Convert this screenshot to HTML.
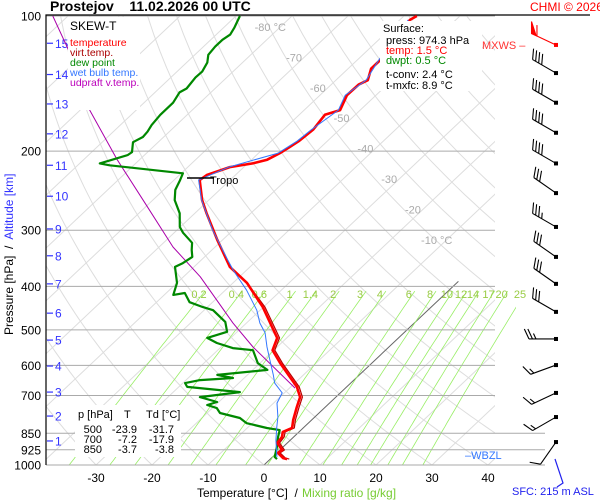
<!DOCTYPE html>
<html><head><meta charset="utf-8"><style>
html,body{margin:0;padding:0;background:#fff;}
svg{display:block;font-family:"Liberation Sans",sans-serif;}
</style></head><body>
<svg id="chart" width="600" height="500" viewBox="0 0 600 500" xmlns="http://www.w3.org/2000/svg">
<defs><clipPath id="plotClip"><rect x="46" y="16" width="449" height="449"/></clipPath>
<clipPath id="mixClip"><rect x="46" y="16" width="470" height="449"/></clipPath></defs>
<g id="grid"></g>
<g id="series"></g>
<g id="barbs"></g>
<g id="labels">
<text x="50" y="11" font-size="14" font-weight="bold" xml:space="preserve">Prostejov    11.02.2026 00 UTC</text>
<text x="530" y="11" font-size="12" fill="#f00">CHMI © 2026</text>
<rect x="68" y="17" width="72" height="93" fill="#fff"/>
<text x="70" y="30" font-size="12">SKEW-T</text>
<text x="70" y="46" font-size="10.5" fill="#f00">temperature</text>
<text x="70" y="56" font-size="10.5" fill="#a00">virt.temp.</text>
<text x="70" y="66" font-size="10.5" fill="#080">dew point</text>
<text x="70" y="76" font-size="10.5" fill="#37f">wet bulb temp.</text>
<text x="70" y="86" font-size="10.5" fill="#b0b">udpraft v.temp.</text>
<rect x="380" y="21" width="102" height="70" fill="#fff"/>
<text x="383" y="32" font-size="11">Surface:</text>
<text x="386" y="44" font-size="11">press: 974.3 hPa</text>
<text x="386" y="54" font-size="11" fill="#f00">temp: 1.5 °C</text>
<text x="386" y="64" font-size="11" fill="#080">dwpt: 0.5 °C</text>
<text x="386" y="78" font-size="11">t-conv: 2.4 °C</text>
<text x="386" y="89" font-size="11">t-mxfc: 8.9 °C</text>
<rect x="75" y="405" width="106" height="52" fill="#fff"/>
<g font-size="11">
<text x="78" y="418">p [hPa]</text><text x="124" y="418">T</text><text x="146" y="418">Td [°C]</text></g>
<g font-size="11" text-anchor="end">
<text x="102" y="433">500</text><text x="137" y="433">-23.9</text><text x="174" y="433">-31.7</text>
<text x="102" y="443">700</text><text x="137" y="443">-7.2</text><text x="174" y="443">-17.9</text>
<text x="102" y="453">850</text><text x="137" y="453">-3.7</text><text x="174" y="453">-3.8</text>
</g>
<text x="197" y="497" font-size="12" xml:space="preserve">Temperature [°C]  /</text>
<text x="302" y="497" font-size="12" fill="#7c3">Mixing ratio [g/kg]</text>
<text transform="translate(13,335) rotate(-90)" font-size="12" xml:space="preserve">Pressure [hPa]  /  <tspan fill="#33f">Altitude [km]</tspan></text>
<text x="482" y="49" font-size="11" fill="#f33">MXWS –</text>
<text x="465" y="459" font-size="11" fill="#37f">–WBZL</text>
<text x="512" y="495" font-size="11" fill="#22e">SFC: 215 m ASL</text>
<polyline points="555,459 563,483 557,487" fill="none" stroke="#22e" stroke-width="1.2"/>
<text x="210" y="184" font-size="11">Tropo</text>
</g>
</svg>
<script>
const pTemp=[970,965,940,926,893,866,844,827,794,743,706,670,637,593,555,521,500,445,393,362,332,315,275,257,232,226,217,213,209,202,196,190,179,166,162,150,142,139,131,125,115,102,100];
const tTemp=[3.0,2.1,0.2,0.4,-1.8,-2.1,-2.9,-2.0,-3.3,-5.1,-6.4,-8.9,-12.0,-16.4,-20.2,-21.7,-23.9,-30.1,-37.5,-43.6,-48.2,-51.0,-57.9,-61.2,-65.4,-65.1,-62.5,-59.1,-57.2,-56.2,-55.6,-55.1,-54.7,-55.4,-53.6,-55.2,-55.1,-54.3,-55.9,-55.9,-56.8,-58.2,-57.7];
const pDew=[970,960,912,866,836,827,807,786,766,747,735,724,706,688,670,657,647,640,630,614,593,555,549,535,521,505,480,452,445,434,414,418,393,362,355,344,332,320,304,295,275,257,244,232,224,215,213,204,201,191,186,181,175,166,156,148,145,137,133,127,122,117,113,110,106,100];
const tDew=[1.2,0.4,-1.1,-2.8,-3.8,-6.5,-11.0,-13.2,-17.7,-19.2,-21.5,-20.3,-24.3,-18.1,-28.5,-29.6,-27.5,-22.0,-25.4,-17.4,-20.4,-23.7,-27.7,-31.5,-34.2,-31.8,-34.0,-38.4,-40.8,-44.1,-46.7,-48.4,-50.0,-53.4,-52.7,-52.2,-53.6,-54.9,-58.4,-60.1,-62.7,-66.1,-67.9,-68.9,-69.7,-84.3,-86.4,-83.0,-82.8,-84.5,-83.7,-83.9,-84.4,-84.8,-84.8,-85.6,-85.1,-85.6,-85.5,-86.3,-87.6,-87.9,-87.9,-87.5,-88.1,-89.3];
const pWet=[960,880,823,782,728,691,657,630,584,546,508,483,452,408,368,350,300,257,232,217,202,190,179,162,150,139,125,115,102];
const tWet=[0.8,-2.6,-4.9,-6.6,-9.4,-10.4,-13.6,-15.4,-18.8,-21.8,-24.8,-27.6,-30.6,-36.2,-42.4,-45.2,-53.6,-61.3,-65.6,-62.7,-56.5,-55.4,-55.0,-53.9,-55.5,-54.6,-56.2,-57.1,-58.5];
const pUp=[674,546,483,381,327,266,209,162,121,100];
const tUp=[-9.0,-24.3,-32.4,-47.0,-57.5,-69.7,-84.0,-98.3,-112.6,-122.7];
const pBarb=[116,134,156,182,213,248,295,344,395,456,524,599,691,782,889];
const dirBarb=[295,300,300,300,300,305,300,305,305,300,270,250,245,240,215];
const spdBarb=[60,40,40,40,40,30,35,30,30,30,25,15,15,15,10];
const pLevels=[100,200,300,400,500,600,700,850,925,1000];
const tTicks=[-30,-20,-10,0,10,20,30,40];
const kmTicks=[1,2,3,4,5,6,7,8,9,10,11,12,13,14,15];
const kmPress=[884,778,688,602,527,459,395,342,298,252,215,183,157,135,115];
const mixW=[0.2,0.4,0.6,1,1.4,2,3,4,6,8,10,12,14,17,20,25];
const isoLabels=[-80,-70,-60,-50,-40,-30,-20,-10];

const NS="http://www.w3.org/2000/svg";
const Y0=16,Y1=465,X0=264,SC=5.6,SK=1.06;
function yP(p){return Y0+(Y1-Y0)*Math.log10(p/100);}
function xT(t,p){return X0+SC*t+(Y1-yP(p))*SK;}
function mk(tag,attrs,parent){const e=document.createElementNS(NS,tag);for(const k in attrs)e.setAttribute(k,attrs[k]);parent.appendChild(e);return e;}
const grid=document.getElementById('grid'),series=document.getElementById('series'),barbs=document.getElementById('barbs'),labels=document.getElementById('labels');
const gc=mk('g',{'clip-path':'url(#plotClip)'},grid);
for(let t=-160;t<=50;t+=10){const l=mk('line',{x1:xT(t,1000),y1:Y1,x2:xT(t,100),y2:Y0,stroke:t===0?'#666':'#ddd','stroke-width':1},t===0?grid:gc);


if(t===0){l.setAttribute('x2',xT(0,400)+5);l.setAttribute('y2',yP(400)-5);}}
for(let th=-40;th<=220;th+=10){let d='';for(let p=1000;p>=100;p-=10){const t=(th+273.15)*Math.pow(p/1000,0.2857)-273.15;d+=(p===1000?'M':'L')+xT(t,p).toFixed(1)+','+yP(p).toFixed(1);}
const a=mk('path',{d:d,fill:'none',stroke:'#ddd','stroke-width':1},gc);

}
const gm=mk('g',{'clip-path':'url(#mixClip)'},grid);
function tdFromW(w,p){const e=w*p/(622+w);const l=Math.log(e/6.112);return 243.5*l/(17.67-l);}
mixW.forEach(w=>{let d='';for(let p=1000;p>=410;p-=10){d+=(p===1000?'M':'L')+xT(tdFromW(w,p),p).toFixed(1)+','+yP(p).toFixed(1);}
const m=mk('path',{d:d,fill:'none',stroke:'#9e6','stroke-width':0.8},gm);


const tx=mk('text',{x:xT(tdFromW(w,410),410)-6,y:298,'font-size':11,fill:'#9c4','text-anchor':'middle'},grid);tx.textContent=w;

});
isoLabels.forEach((t,i)=>{const yy=27+i*30.4;const tx=mk('text',{x:xT(t,100*Math.pow(10,(yy-Y0)/449))-10,y:yy+4,'font-size':11,fill:'#aaa','text-anchor':'middle'},grid);tx.textContent=(i===0||i===7)?t+' °C':t;

});
pLevels.forEach(p=>{const y=yP(p);const ext=p>=850?545:495;const l=mk('line',{x1:46,y1:y,x2:ext,y2:y,stroke:'#aaa','stroke-width':1},grid);


const tx=mk('text',{x:41,y:y+4.5,'font-size':12,'text-anchor':'end'},grid);tx.textContent=p;

});
tTicks.forEach(t=>{const tx=mk('text',{x:xT(t,1000),y:482,'font-size':12,'text-anchor':'middle'},grid);tx.textContent=t;

});
kmTicks.forEach((k,i)=>{const y=yP(kmPress[i]);const l=mk('line',{x1:47,y1:y,x2:53,y2:y,stroke:'#33f','stroke-width':1.2},grid);


const tx=mk('text',{x:55,y:y+4.5,'font-size':12,fill:'#33f'},grid);tx.textContent=k;

});
const ax=mk('path',{d:'M46,465 L46,15 L590,15',fill:'none',stroke:'#000','stroke-width':1.2},grid);


function line(ps,ts,col,w,name){let d='';ps.forEach((p,i)=>{d+=(i?'L':'M')+xT(ts[i],p).toFixed(1)+','+yP(p).toFixed(1);});
const e=mk('path',{d:d,fill:'none',stroke:col,'stroke-width':w,'stroke-linejoin':'round'},series);

}
line(pUp,tUp,'#a0a',1,'updraft-line');
line(pDew,tDew,'#080',2.2,'dew-point-line');
line(pTemp,tTemp.map((t,i)=>pTemp[i]>400?t+0.4:t),'#b00',1.2,'virt-temp-line');
line(pTemp,tTemp,'#f00',2.6,'temperature-line');
line(pWet,tWet,'#37f',1,'wet-bulb-line');
const tr=mk('line',{x1:187,y1:178,x2:214,y2:178,stroke:'#000','stroke-width':1.5},series);


function barb(cx,cy,dir,spd,col){const g=mk('g',{stroke:col,'stroke-width':1.1,fill:col},barbs);


const r=dir*Math.PI/180;const ux=Math.sin(r),uy=-Math.cos(r);const L=27;
const ex=cx+ux*L,ey=cy+uy*L;mk('line',{x1:cx,y1:cy,x2:ex,y2:ey},g);
mk('rect',{x:cx-2,y:cy-2,width:4,height:4,stroke:'none'},g);
const a=65*Math.PI/180;const bx=ux*Math.cos(a)-uy*Math.sin(a),by=ux*Math.sin(a)+uy*Math.cos(a);
let s=spd,pos=0;
while(s>=50){const px=ex-ux*pos,py=ey-uy*pos;mk('polygon',{points:`${px},${py} ${px+bx*12},${py+by*12} ${px-ux*5},${py-uy*5}`},g);pos+=6;s-=50;}
while(s>=10){const px=ex-ux*pos,py=ey-uy*pos;mk('line',{x1:px,y1:py,x2:px+bx*11,y2:py+by*11},g);pos+=3.5;s-=10;}
if(s>=5){if(pos===0)pos=3.5;const px=ex-ux*pos,py=ey-uy*pos;mk('line',{x1:px,y1:py,x2:px+bx*6,y2:py+by*6},g);}}
pBarb.forEach((p,i)=>{barb(556,yP(p),dirBarb[i],spdBarb[i],i===0?'#f00':'#000');});
</script>
</body></html>
